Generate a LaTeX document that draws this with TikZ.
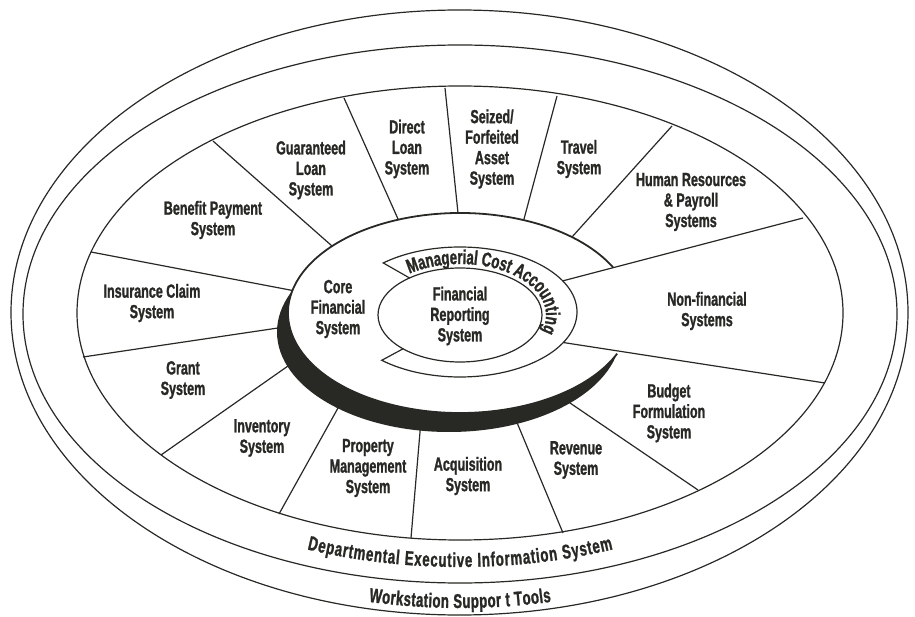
\documentclass[tikz,border=0pt]{standalone}
\usepackage{fontspec}
\newfontfamily\condfont{Liberation Sans}[FakeStretch=0.66,FakeBold=1.2]
\usetikzlibrary{calc,decorations.text}
\definecolor{ink}{RGB}{40,40,36}
\newcommand\labelfont{\condfont\bfseries\fontsize{19}{20.5}\selectfont}
\newcommand\bandfont{\condfont\bfseries\fontsize{20}{21}\selectfont}

\begin{document}
\begin{tikzpicture}[x=1pt,y=-1pt,
    ring/.style={draw=ink,line width=1.2pt},
    spoke/.style={draw=ink,line width=1.2pt},
    sysname/.style={align=center,font=\labelfont,text=ink,inner sep=0pt},
    bandtext/.style={decorate,decoration={text along path,text align={fit to path},text color=ink,text={#1}}}]
  \useasboundingbox (0,0) rectangle (915,617);
  \coordinate (c) at (460,313);
  \coordinate (shadow) at (449,332);
  \coordinate (mca) at (460,312);
  \coordinate (frs) at (460,315);
  \coordinate (band) at (460,314);

  % outer rings
  \draw[ring] (459.5,312.5) ellipse[x radius=448.5,y radius=302.5];
  \draw[ring] (band) ellipse[x radius=437,y radius=269];
  \draw[ring] (c) ellipse[x radius=383,y radius=227];

  % spokes between the systems
  \foreach \ox/\oy/\ix/\iy [count=\k] in {91/252/290/290, 213/141/332/246,
      344/98/398/219, 445/88/458/213, 557/96/524/219, 672/126/572/237,
      83/357/278/328, 161/455/288/366, 279/514/338/408, 411/538/420/432,
      563/533/518/425, 698/490/570/403} {
    \coordinate (out\k) at (\ox,\oy);
    \coordinate (in\k) at (\ix,\iy);
    \draw[spoke] (out\k) -- ($(out\k)!1.04!(in\k)$);
  }

  % core financial system with its shadow
  \fill[ink] (shadow) ellipse[x radius=172,y radius=100];
  \fill[white] (c) ellipse[x radius=172,y radius=100];
  \draw[ink,line width=1.8pt] ($(c)+(24:172 and 100)$)
    arc[start angle=24,end angle=333,x radius=172,y radius=100];

  % non-financial systems reach the inner band
  \coordinate (nfA) at ($(mca)+(-28.6:117 and 65)$);
  \coordinate (nfB) at ($(mca)+(28:117 and 65)$);
  \coordinate (nfAout) at (803,218);
  \coordinate (nfBout) at (825,383);
  \draw[spoke] (nfA) -- (nfAout);
  \draw[spoke] (nfB) -- (nfBout);

  % managerial cost accounting band
  \coordinate (mcaA) at ($(mca)+(-131:117 and 65)$);
  \coordinate (frsA) at ($(frs)+(-128:82 and 47)$);
  \coordinate (frsB) at ($(frs)+(134:82 and 47)$);
  \draw[ring] (frsA) -- (mcaA)
    arc[start angle=-131,end angle=132,x radius=117,y radius=65] -- (frsB);
  \draw[ring] (frs) ellipse[x radius=82,y radius=47];

  % curved band texts
  \path[bandtext={|\bandfont|Managerial Cost Accounting}]
    ($(frs)+(-126:86 and 51)$) arc[start angle=-126,end angle=17,x radius=86,y radius=51];
  \path[bandtext={|\bandfont|Departmental Executive Information System}]
    ($(band)+(111.5:417 and 253)$) arc[start angle=111.5,end angle=68.5,x radius=417,y radius=253];
  \path[bandtext={|\bandfont|Workstation Suppor t Tools}]
    ($(band)+(101.8:446 and 294)$) arc[start angle=101.8,end angle=78.2,x radius=446,y radius=294];

  % system names
  \node[sysname] (benefit) at (213,220) {Benefit Payment\\System};
  \node[sysname] (guaranteed) at (311,170) {Guaranteed\\Loan\\System};
  \node[sysname] (direct) at (407,149) {Direct\\Loan\\System};
  \node[sysname] (seized) at (492,149) {Seized/\\Forfeited\\Asset\\System};
  \node[sysname] (travel) at (579,159) {Travel\\System};
  \node[sysname] (hr) at (691,202) {Human Resources\\\& Payroll\\Systems};
  \node[sysname] (nonfin) at (707,311) {Non-financial\\Systems};
  \node[sysname] (budget) at (669,413) {Budget\\Formulation\\System};
  \node[sysname] (revenue) at (576,460) {Revenue\\System};
  \node[sysname] (acquisition) at (468,476) {Acquisition\\System};
  \node[sysname] (property) at (368,468) {Property\\Management\\System};
  \node[sysname] (inventory) at (262,438) {Inventory\\System};
  \node[sysname] (grant) at (183,380) {Grant\\System};
  \node[sysname] (insurance) at (152,303) {Insurance Claim\\System};
  \node[sysname] (core) at (338,309) {Core\\Financial\\System};
  \node[sysname] (reporting) at (460,316) {Financial\\Reporting\\System};
\end{tikzpicture}
\end{document}
